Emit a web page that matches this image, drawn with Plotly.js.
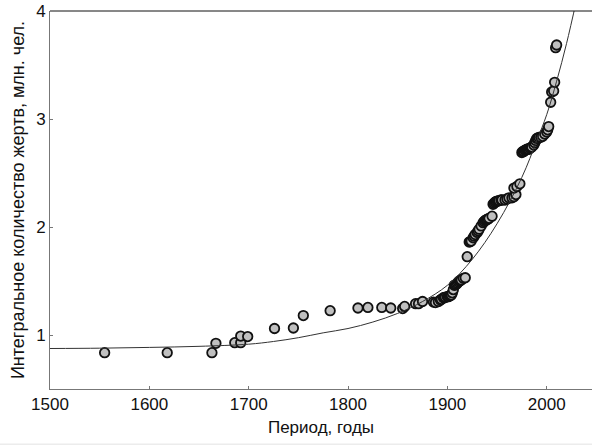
<!DOCTYPE html>
<html>
<head>
<meta charset="utf-8">
<script src="https://cdn.plot.ly/plotly-3.0.1.min.js"></script>
<style>html,body{margin:0;padding:0;background:#fff;}#chart{width:592px;height:445px;}</style>
</head>
<body>
<div id="chart"></div>
<script>
// Observed points (year, cumulative victims, million people)
var years = [1555, 1618, 1663, 1667, 1686, 1692, 1692, 1699, 1726, 1745, 1755, 1782,
  1810, 1820, 1834, 1843, 1855, 1857, 1868, 1871, 1875,
  1886, 1888, 1891, 1893, 1894, 1896, 1897, 1898, 1900, 1901, 1902, 1903, 1904, 1905, 1906, 1907, 1908, 1909, 1910, 1911, 1912, 1913, 1914, 1916, 1918,
  1920, 1922, 1923, 1924, 1926, 1927, 1928, 1930, 1931, 1932, 1934, 1936, 1937, 1938, 1939, 1940, 1941, 1942, 1945,
  1946, 1947, 1948, 1949, 1950, 1951, 1952, 1954, 1955, 1958, 1960, 1962, 1965, 1967, 1969,
  1967, 1970, 1973,
  1975, 1976, 1977, 1978, 1979, 1980, 1981, 1982, 1983, 1984, 1985, 1987, 1988, 1989, 1990, 1991, 1992, 1994, 1996, 1998, 2000, 2001, 2002,
  2004, 2005, 2007, 2008, 2009, 2010];
var victims = [0.836, 0.836, 0.836, 0.923, 0.929, 0.929, 0.99, 0.985, 1.06, 1.065, 1.18, 1.225,
  1.25, 1.255, 1.255, 1.25, 1.245, 1.265, 1.29, 1.29, 1.31,
  1.305, 1.30, 1.31, 1.325, 1.33, 1.345, 1.345, 1.35, 1.355, 1.355, 1.36, 1.365, 1.37, 1.39, 1.42, 1.46, 1.465, 1.47, 1.48, 1.49, 1.50, 1.505, 1.51, 1.525, 1.53,
  1.725, 1.86, 1.865, 1.87, 1.90, 1.915, 1.93, 1.95, 1.965, 1.98, 2.01, 2.04, 2.05, 2.06, 2.065, 2.07, 2.075, 2.08, 2.10,
  2.21, 2.22, 2.23, 2.235, 2.24, 2.24, 2.245, 2.25, 2.25, 2.25, 2.26, 2.27, 2.27, 2.28, 2.30,
  2.36, 2.375, 2.40,
  2.69, 2.70, 2.70, 2.71, 2.715, 2.72, 2.72, 2.72, 2.73, 2.735, 2.74, 2.76, 2.78, 2.80, 2.82, 2.82, 2.83, 2.83, 2.84, 2.86, 2.88, 2.90, 2.93,
  3.155, 3.25, 3.26, 3.34, 3.66, 3.685];

// Fitted trend line
var fitYears = [1500, 1550, 1600, 1650, 1700, 1725, 1750, 1775, 1800, 1825, 1850, 1875,
  1900, 1925, 1950, 1975, 1990, 2000, 2010, 2020, 2030];
var fitValues = [0.875, 0.878, 0.885, 0.895, 0.915, 0.94, 0.975, 1.02, 1.06, 1.12, 1.20, 1.31,
  1.46, 1.70, 2.03, 2.46, 2.80, 3.04, 3.35, 3.70, 4.10];

var xTicks = [1500, 1600, 1700, 1800, 1900, 2000];
var yTicks = [1, 2, 3, 4];

var points = {
  x: years, y: victims, type: 'scatter', mode: 'markers',
  marker: {size: 9.5, color: '#c0c0c0', line: {color: '#111111', width: 1.8}},
  hoverinfo: 'x+y', showlegend: false
};
var fit = {
  x: fitYears, y: fitValues, type: 'scatter', mode: 'lines',
  line: {color: '#333333', width: 1, shape: 'spline'},
  hoverinfo: 'skip', showlegend: false
};

var font = {family: 'Liberation Sans, Arial, sans-serif', color: '#111111'};
var layout = {
  width: 592, height: 445,
  margin: {l: 50, r: 0, t: 11, b: 56, pad: 0},
  paper_bgcolor: '#ffffff', plot_bgcolor: '#ffffff',
  font: font,
  showlegend: false,
  xaxis: {
    range: [1500, 2045.6], tickvals: xTicks, ticktext: xTicks.map(String),
    showgrid: false, zeroline: false, showline: true, linecolor: '#777777', linewidth: 1,
    ticks: 'inside', ticklen: 3, tickcolor: '#777777',
    tickfont: {size: 17, family: font.family, color: '#111111'},
    title: {text: 'Период, годы', font: {size: 17, family: font.family, color: '#111111'}, standoff: 7},
    automargin: false, fixedrange: true
  },
  yaxis: {
    range: [0.5, 4], tickvals: yTicks, ticktext: yTicks.map(String),
    showgrid: false, zeroline: false, showline: true, linecolor: '#777777', linewidth: 1,
    ticks: 'inside', ticklen: 3, tickcolor: '#777777',
    tickfont: {size: 17, family: font.family, color: '#111111'},
    title: {text: 'Интегральное количество жертв, млн. чел.', font: {size: 18, family: font.family, color: '#111111'}, standoff: 6},
    automargin: false, fixedrange: true
  },
  shapes: [
    {type: 'line', xref: 'paper', yref: 'paper', x0: 0, x1: 1, y0: 1, y1: 1,
     line: {color: '#111111', width: 1}},
    {type: 'rect', xref: 'paper', yref: 'paper', x0: -0.1, x1: 1.01, y0: -0.15, y1: -0.144,
     fillcolor: '#ececec', line: {width: 0}, layer: 'below'}
  ]
};

Plotly.newPlot('chart', [points, fit], layout, {displayModeBar: false, staticPlot: true});
</script>
</body>
</html>
